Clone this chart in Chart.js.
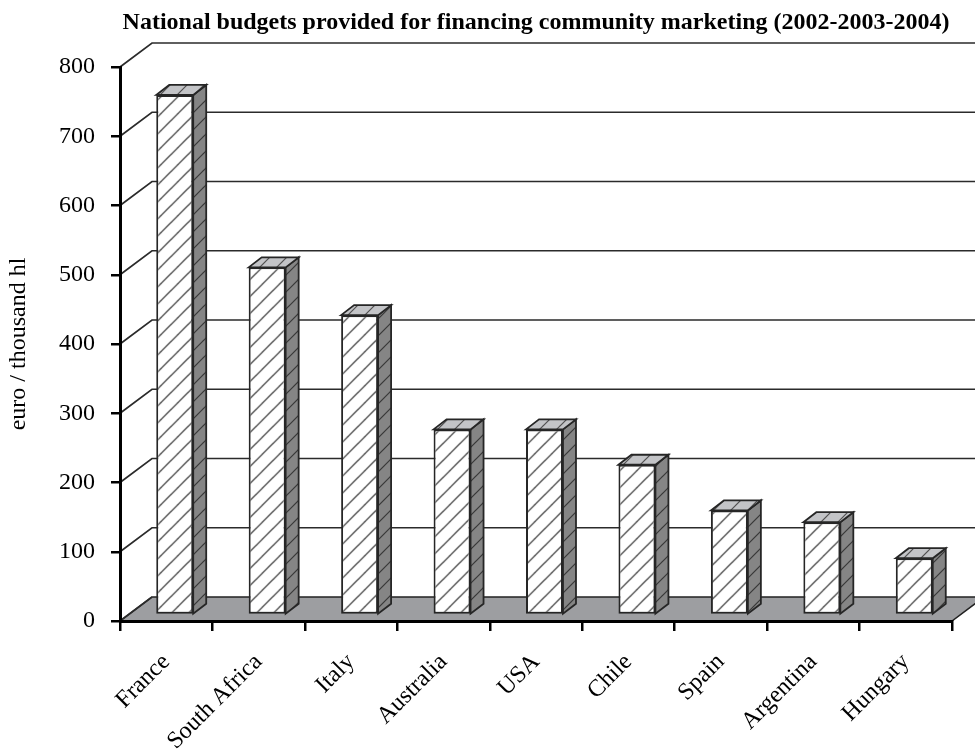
<!DOCTYPE html>
<html>
<head>
<meta charset="utf-8">
<script src="https://cdn.jsdelivr.net/npm/chart.js@4.4.1/dist/chart.umd.min.js"></script>
<style>
  html, body { margin: 0; padding: 0; background: #fff; }
</style>
</head>
<body>
<canvas id="budgets" width="975" height="750"></canvas>
<script>
const countries = ['France', 'South Africa', 'Italy', 'Australia', 'USA', 'Chile', 'Spain', 'Argentina', 'Hungary'];
const budgets = [751, 502, 433, 268, 268, 217, 151, 134, 82];
const yTicks = [0, 100, 200, 300, 400, 500, 600, 700, 800];

const SERIF = "'Liberation Serif', 'Times New Roman', serif";

// perspective offsets: walls/floor, bar placement on the floor, bar depth
const WALL_DX = 32, WALL_DY = -24;
const BAR_SHIFT_X = 8.5, BAR_SHIFT_Y = -6;
const BAR_DX = 13, BAR_DY = -10;

const canvas = document.getElementById('budgets');
const ctx = canvas.getContext('2d');

function hatch(bg, line) {
  const size = 17;
  const c = document.createElement('canvas');
  c.width = size;
  c.height = size;
  const g = c.getContext('2d');
  g.fillStyle = bg;
  g.fillRect(0, 0, size, size);
  g.strokeStyle = line;
  g.lineWidth = 1.2;
  for (const off of [-size, 0, size]) {
    g.beginPath();
    g.moveTo(off - 1, size + 1);
    g.lineTo(off + size + 1, -1);
    g.stroke();
  }
  return ctx.createPattern(c, 'repeat');
}

const frontFill = hatch('#ffffff', '#2e2e2e');
const sideFill = hatch('#858585', '#383838');
const topFill = hatch('#c3c4c7', '#505050');

const room3d = {
  id: 'room3d',
  // floor and the left/back wall lines, under the axes
  beforeDraw(chart) {
    const { ctx, chartArea: a, scales: { y } } = chart;
    const base = y.getPixelForValue(0);
    ctx.save();
    ctx.beginPath();
    ctx.moveTo(a.left, base);
    ctx.lineTo(a.right, base);
    ctx.lineTo(a.right + WALL_DX, base + WALL_DY);
    ctx.lineTo(a.left + WALL_DX, base + WALL_DY);
    ctx.closePath();
    ctx.fillStyle = '#9d9ea1';
    ctx.fill();
    ctx.strokeStyle = '#222';
    ctx.lineWidth = 1.5;
    ctx.stroke();

    ctx.strokeStyle = '#2b2b2b';
    ctx.lineWidth = 1.7;
    y.ticks.forEach(t => {
      const py = y.getPixelForValue(t.value);
      ctx.beginPath();
      ctx.moveTo(a.left, py);
      ctx.lineTo(a.left + WALL_DX, py + WALL_DY);
      if (t.value > 0) ctx.lineTo(chart.width, py + WALL_DY);
      ctx.stroke();
    });
    ctx.restore();
  },
  // front faces are set back onto the floor
  beforeDatasetDraw(chart) {
    chart.ctx.save();
    chart.ctx.translate(BAR_SHIFT_X, BAR_SHIFT_Y);
  },
  afterDatasetDraw(chart) {
    chart.ctx.restore();
  },
  // side and top faces of every bar
  afterDatasetsDraw(chart) {
    const ctx = chart.ctx;
    ctx.save();
    ctx.strokeStyle = '#262626';
    ctx.lineWidth = 1.8;
    ctx.lineJoin = 'miter';
    chart.getDatasetMeta(0).data.forEach(bar => {
      const { x, y, base, width } = bar.getProps(['x', 'y', 'base', 'width'], true);
      const l = x - width / 2 + BAR_SHIFT_X;
      const r = x + width / 2 + BAR_SHIFT_X;
      const t = y + BAR_SHIFT_Y;
      const b = base + BAR_SHIFT_Y;

      ctx.beginPath();
      ctx.moveTo(r, t);
      ctx.lineTo(r + BAR_DX, t + BAR_DY);
      ctx.lineTo(r + BAR_DX, b + BAR_DY);
      ctx.lineTo(r, b);
      ctx.closePath();
      ctx.fillStyle = sideFill;
      ctx.fill();
      ctx.stroke();

      ctx.beginPath();
      ctx.moveTo(l, t);
      ctx.lineTo(l + BAR_DX, t + BAR_DY);
      ctx.lineTo(r + BAR_DX, t + BAR_DY);
      ctx.lineTo(r, t);
      ctx.closePath();
      ctx.fillStyle = topFill;
      ctx.fill();
      ctx.stroke();
    });
    ctx.restore();
  }
};

new Chart(canvas, {
  type: 'bar',
  data: {
    labels: countries,
    datasets: [{
      data: budgets,
      backgroundColor: frontFill,
      borderColor: '#262626',
      borderWidth: 2,
      borderSkipped: false,
      barPercentage: 0.4,
      categoryPercentage: 1,
      clip: false
    }]
  },
  options: {
    responsive: false,
    animation: false,
    events: [],
    layout: { padding: { top: 0, right: 23, bottom: 0, left: 0 } },
    plugins: {
      legend: { display: false },
      tooltip: { enabled: false },
      title: {
        display: true,
        text: 'National budgets provided for financing community marketing (2002-2003-2004)',
        fullSize: false,
        color: '#000',
        font: { family: SERIF, size: 24, weight: 'bold', lineHeight: 1.2 },
        padding: { top: 8, bottom: 30.2 }
      }
    },
    scales: {
      x: {
        grid: { drawOnChartArea: false, drawTicks: true, tickLength: 10, color: '#000', lineWidth: 2.5, offset: true },
        border: { color: '#000', width: 3 },
        ticks: {
          color: '#000',
          font: { family: SERIF, size: 24 },
          minRotation: 45,
          maxRotation: 45,
          autoSkip: false,
          padding: 17
        },
        afterFit(s) { s.height = 129; }
      },
      y: {
        min: 0,
        max: 800,
        afterBuildTicks(s) { s.ticks = yTicks.map(v => ({ value: v })); },
        grid: { drawOnChartArea: false, drawTicks: true, tickLength: 9, color: '#000', lineWidth: 2.5 },
        border: { color: '#000', width: 3 },
        ticks: { color: '#000', font: { family: SERIF, size: 24 }, padding: 16 },
        title: {
          display: true,
          text: 'euro / thousand hl',
          color: '#000',
          font: { family: SERIF, size: 24 },
          padding: { top: 4, bottom: 0 }
        },
        afterFit(s) { s.width = 120; }
      }
    }
  },
  plugins: [room3d]
});
</script>
</body>
</html>
